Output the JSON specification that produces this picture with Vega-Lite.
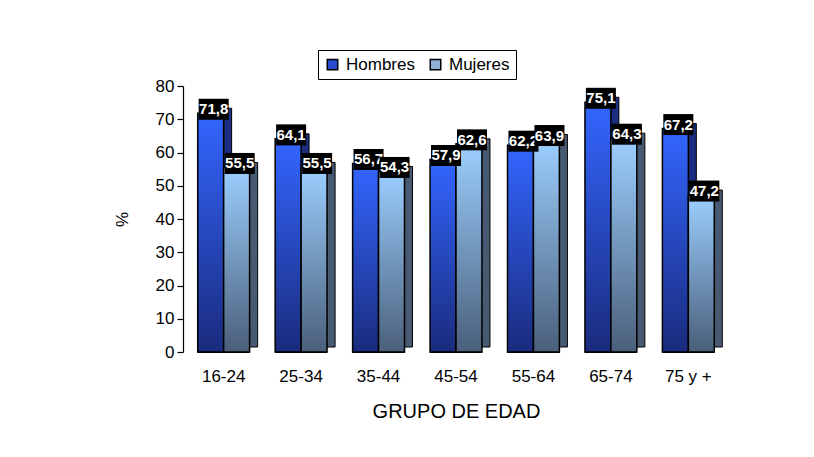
{
  "$schema": "https://vega.github.io/schema/vega-lite/v6.json",
  "width": 546,
  "height": 266,
  "autosize": "none",
  "padding": {"left": 183, "top": 86, "right": 85, "bottom": 105},
  "background": "white",
  "data": {
    "values": [
      {"grupo": "16-24", "sexo": "Hombres", "valor": 71.8},
      {"grupo": "16-24", "sexo": "Mujeres", "valor": 55.5},
      {"grupo": "25-34", "sexo": "Hombres", "valor": 64.1},
      {"grupo": "25-34", "sexo": "Mujeres", "valor": 55.5},
      {"grupo": "35-44", "sexo": "Hombres", "valor": 56.7},
      {"grupo": "35-44", "sexo": "Mujeres", "valor": 54.3},
      {"grupo": "45-54", "sexo": "Hombres", "valor": 57.9},
      {"grupo": "45-54", "sexo": "Mujeres", "valor": 62.6},
      {"grupo": "55-64", "sexo": "Hombres", "valor": 62.2},
      {"grupo": "55-64", "sexo": "Mujeres", "valor": 63.9},
      {"grupo": "65-74", "sexo": "Hombres", "valor": 75.1},
      {"grupo": "65-74", "sexo": "Mujeres", "valor": 64.3},
      {"grupo": "75 y +", "sexo": "Hombres", "valor": 67.2},
      {"grupo": "75 y +", "sexo": "Mujeres", "valor": 47.2}
    ]
  },
  "encoding": {
    "x": {
      "field": "grupo", "type": "nominal", "sort": null,
      "scale": {"paddingInner": 0.33, "paddingOuter": 0.19},
      "axis": {
        "title": "GRUPO DE EDAD", "labelAngle": 0, "domain": false, "ticks": false,
        "labelPadding": 16, "labelFontSize": 17, "labelColor": "black",
        "titleFontSize": 20, "titleFontWeight": "normal", "titleColor": "black", "titlePadding": 17
      }
    },
    "y": {
      "field": "valor", "type": "quantitative",
      "scale": {"domain": [0, 80], "nice": false},
      "axis": {
        "title": "%", "values": [0, 10, 20, 30, 40, 50, 60, 70, 80], "grid": false,
        "domainColor": "black", "domainWidth": 1.2, "tickColor": "black", "tickSize": 6, "tickWidth": 1.2,
        "labelPadding": 3, "labelFontSize": 17, "labelColor": "black",
        "titleFontSize": 17, "titleFontWeight": "normal", "titleColor": "black", "titlePadding": 24
      }
    }
  },
  "layer": [
    {
      "mark": {"type": "bar", "stroke": "black", "strokeWidth": 1},
      "encoding": {
        "y": {"datum": 0},
        "color": {
          "field": "sexo", "type": "nominal",
          "scale": {"domain": ["Hombres", "Mujeres"], "range": ["#2b4bd0", "#8fb2d6"]},
          "legend": {
            "orient": "none", "legendX": 135, "legendY": -36, "direction": "horizontal", "title": null,
            "symbolType": "square", "symbolSize": 110, "symbolStrokeColor": "black", "symbolStrokeWidth": 1.5,
            "labelFontSize": 17, "labelColor": "black", "labelOffset": 5, "columnPadding": 12,
            "padding": 6, "strokeColor": "black", "fillColor": "white"
          }
        }
      }
    },
    {
      "transform": [{"filter": "datum.sexo === 'Hombres'"}],
      "mark": {"type": "bar", "width": {"band": 0.5}, "xOffset": -5, "yOffset": -5, "fill": "#1b2d7e", "stroke": "black", "strokeWidth": 1}
    },
    {
      "transform": [{"filter": "datum.sexo === 'Mujeres'"}],
      "mark": {"type": "bar", "width": {"band": 0.5}, "xOffset": 21, "yOffset": -5, "fill": "#475a72", "stroke": "black", "strokeWidth": 1}
    },
    {
      "mark": {"type": "bar", "stroke": "black", "strokeWidth": 1.5},
      "encoding": {
        "xOffset": {"field": "sexo", "type": "nominal", "sort": ["Hombres", "Mujeres"], "scale": {"paddingInner": 0, "paddingOuter": 0}},
        "fill": {
          "condition": {
            "test": "datum.sexo === 'Hombres'",
            "value": {"gradient": "linear", "x1": 0, "y1": 0, "x2": 0, "y2": 1,
              "stops": [{"offset": 0, "color": "#3366ff"}, {"offset": 1, "color": "#1a2b7d"}]}
          },
          "value": {"gradient": "linear", "x1": 0, "y1": 0, "x2": 0, "y2": 1,
            "stops": [{"offset": 0, "color": "#9ccfff"}, {"offset": 1, "color": "#4a5f7a"}]}
        }
      }
    },
    {
      "transform": [{"filter": "datum.sexo === 'Hombres'"}],
      "mark": {"type": "point", "shape": "M-1.43,-1H1.43V1H-1.43Z", "size": 441, "filled": true, "color": "black", "opacity": 1, "xOffset": -10, "yOffset": -4}
    },
    {
      "transform": [{"filter": "datum.sexo === 'Hombres'"}],
      "mark": {"type": "text", "color": "white", "fontWeight": "bold", "fontSize": 15, "baseline": "middle", "align": "center", "xOffset": -10, "yOffset": -4},
      "encoding": {"text": {"field": "valor", "type": "quantitative", "format": ".1f"}}
    },
    {
      "transform": [{"filter": "datum.sexo === 'Mujeres'"}],
      "mark": {"type": "point", "shape": "M-1.43,-1H1.43V1H-1.43Z", "size": 441, "filled": true, "color": "black", "opacity": 1, "xOffset": 16, "yOffset": -4}
    },
    {
      "transform": [{"filter": "datum.sexo === 'Mujeres'"}],
      "mark": {"type": "text", "color": "white", "fontWeight": "bold", "fontSize": 15, "baseline": "middle", "align": "center", "xOffset": 16, "yOffset": -4},
      "encoding": {"text": {"field": "valor", "type": "quantitative", "format": ".1f"}}
    }
  ],
  "config": {
    "font": "Liberation Sans",
    "view": {"stroke": null},
    "locale": {"number": {"decimal": ",", "thousands": ".", "grouping": [3], "currency": ["", " €"]}}
  }
}
